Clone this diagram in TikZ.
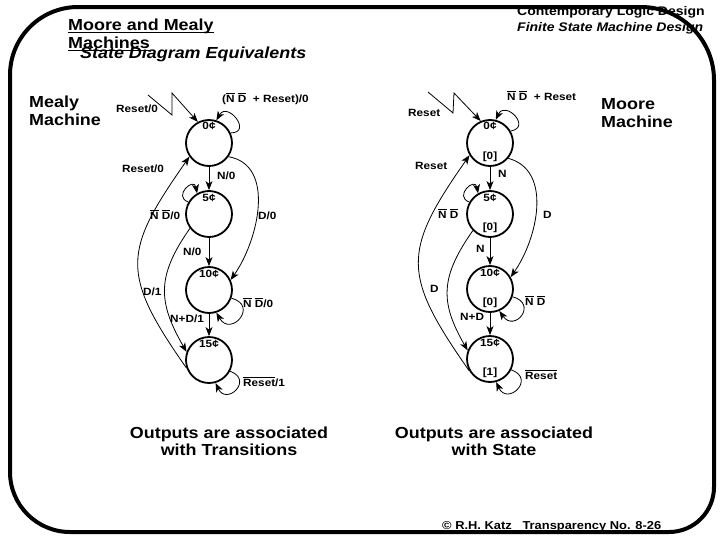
\documentclass[tikz,border=0pt]{standalone}
\usepackage{fontspec}
\setmainfont{Liberation Sans}[FakeStretch=1.12]
\usepackage{tikz}
\usetikzlibrary{arrows.meta}
\newcommand{\ovr}[1]{$\overline{\hbox{#1}}$}

\begin{document}
\begin{tikzpicture}[
  x=1pt,y=1pt,
  state/.style={circle,draw,line width=1.8pt,minimum size=46pt,inner sep=0pt},
  tr/.style={-{Stealth[length=9pt,width=7pt,inset=2.5pt]},line width=0.8pt},
  lbl/.style={font=\fontsize{10.5}{12}\selectfont\bfseries,inner sep=0pt},
  big/.style={font=\fontsize{16}{18}\selectfont\bfseries,inner sep=0pt},
  head/.style={font=\fontsize{12.5}{14}\selectfont\bfseries,inner sep=0pt},
  frame/.style={line width=4pt}
]
  \useasboundingbox (0,0) rectangle (728,-546);

  % titles
  \node[big,anchor=base west] (ttlA) at (68,-30) {Moore and Mealy};
  \node[big,anchor=base west] (ttlB) at (68,-48) {Machines};
  \draw[line width=1pt] ([yshift=-2.5pt]ttlA.base west) -- ([yshift=-2.5pt]ttlA.base east);
  \draw[line width=1pt] ([yshift=-2.5pt]ttlB.base west) -- ([yshift=-2.5pt]ttlB.base east);
  \node[big,font=\fontsize{16}{18}\selectfont\bfseries\itshape,anchor=base west] (sub) at (80,-58) {State Diagram Equivalents};
  \node[head,anchor=base west] (hdA) at (517,-16) {Contemporary Logic Design};
  \node[head,font=\fontsize{12.5}{14}\selectfont\bfseries\itshape,anchor=base west] (hdB) at (517,-31) {Finite State Machine Design};
  \node[big,anchor=base west] (meaA) at (29,-107) {Mealy};
  \node[big,anchor=base west] (meaB) at (29,-125) {Machine};
  \node[big,anchor=base west] (mooA) at (601,-109) {Moore};
  \node[big,anchor=base west] (mooB) at (601,-127) {Machine};

  % Mealy machine
  \node[state] (mea0) at (209,-143) {};
  \node[state] (mea5) at (209,-214) {};
  \node[state] (mea10) at (209,-290) {};
  \node[state] (mea15) at (209,-360) {};
  \node[lbl,anchor=base] at ([yshift=-10pt]mea0.north) {0¢};
  \node[lbl,anchor=base] at ([yshift=-11pt]mea5.north) {5¢};
  \node[lbl,anchor=base] at ([yshift=-11pt]mea10.north) {10¢};
  \node[lbl,anchor=base] at ([yshift=-11pt]mea15.north) {15¢};

  \coordinate (meaR) at (148,-95);
  \draw[tr] (meaR) -- (172,-115) -- (172,-93) -- (mea0.118);
  \draw[tr] (mea0.25) to[out=0,in=60,looseness=3] (mea0.72);
  \draw[tr] (mea0) -- (mea5);
  \draw[tr] (mea5.150) to[out=160,in=100,looseness=3.5] (mea5.120);
  \draw[tr] (mea0.-35) to[out=-10,in=55] (mea10.25);
  \draw[tr] (mea5) -- (mea10);
  \draw[tr] (mea5.217) to[out=235,in=120,looseness=1.2] (mea15.160);
  \draw[tr] (mea15.200) to[out=125,in=235,looseness=1.4] (mea0.215);
  \draw[tr] (mea10) -- (mea15);
  \draw[tr] (mea10.-20) to[out=-15,in=-60,looseness=3.5] (mea10.-72);
  \draw[tr] (mea15.-28) to[out=-20,in=-65,looseness=3.5] (mea15.-74);

  \node[lbl,anchor=base west] at (116,-112) {Reset/0};
  \node[lbl,anchor=base west] at (222,-102) {(\ovr{N} \ovr{D}\ \ + Reset)/0};
  \node[lbl,anchor=base west] at (122,-172) {Reset/0};
  \node[lbl,anchor=base west] at (217,-179) {N/0};
  \node[lbl,anchor=base west] at (150,-219) {\ovr{N} \ovr{D}/0};
  \node[lbl,anchor=base west] at (258,-219) {D/0};
  \node[lbl,anchor=base west] at (183,-255) {N/0};
  \node[lbl,anchor=base west] at (143,-295) {D/1};
  \node[lbl,anchor=base west] at (243,-307) {\ovr{N} \ovr{D}/0};
  \node[lbl,anchor=base west] at (170,-322) {N+D/1};
  \node[lbl,anchor=base west] at (243,-386) {\ovr{Reset}/1};

  % Moore machine
  \node[state] (moo0) at (490,-143) {};
  \node[state] (moo5) at (490,-214) {};
  \node[state] (moo10) at (490,-289) {};
  \node[state] (moo15) at (490,-359) {};
  \node[lbl,anchor=base] at ([yshift=-10pt]moo0.north) {0¢};
  \node[lbl,anchor=base] at ([yshift=-11pt]moo5.north) {5¢};
  \node[lbl,anchor=base] at ([yshift=-11pt]moo10.north) {10¢};
  \node[lbl,anchor=base] at ([yshift=-11pt]moo15.north) {15¢};
  \node[lbl,anchor=base] at ([yshift=7pt]moo0.south) {[0]};
  \node[lbl,anchor=base] at ([yshift=7pt]moo5.south) {[0]};
  \node[lbl,anchor=base] at ([yshift=7pt]moo10.south) {[0]};
  \node[lbl,anchor=base] at ([yshift=7pt]moo15.south) {[1]};

  \coordinate (mooR) at (428,-92);
  \draw[tr] (mooR) -- (453,-113) -- (454,-93) -- (moo0.113);
  \draw[tr] (moo0.30) to[out=10,in=65,looseness=3] (moo0.76);
  \draw[tr] (moo0) -- (moo5);
  \draw[tr] (moo5.150) to[out=160,in=100,looseness=3.5] (moo5.120);
  \draw[tr] (moo0.-40) to[out=-15,in=55] (moo10.30);
  \draw[tr] (moo5) -- (moo10);
  \draw[tr] (moo5.224) to[out=235,in=120,looseness=1.2] (moo15.159);
  \draw[tr] (moo15.210) to[out=125,in=235,looseness=1.4] (moo0.211);
  \draw[tr] (moo10) -- (moo15);
  \draw[tr] (moo10.-19) to[out=-15,in=-55,looseness=3.5] (moo10.-67);
  \draw[tr] (moo15.-27) to[out=-20,in=-65,looseness=3.5] (moo15.-75);

  \node[lbl,anchor=base west] at (408,-116) {Reset};
  \node[lbl,anchor=base west] at (507,-100) {\ovr{N} \ovr{D}\ \ + Reset};
  \node[lbl,anchor=base west] at (415,-169) {Reset};
  \node[lbl,anchor=base west] at (498,-177) {N};
  \node[lbl,anchor=base west] at (438,-218) {\ovr{N} \ovr{D}};
  \node[lbl,anchor=base west] at (543,-218) {D};
  \node[lbl,anchor=base west] at (476,-252) {N};
  \node[lbl,anchor=base west] at (430,-292) {D};
  \node[lbl,anchor=base west] at (525,-305) {\ovr{N} \ovr{D}};
  \node[lbl,anchor=base west] at (460,-320) {N+D};
  \node[lbl,anchor=base west] at (525,-379) {\ovr{Reset}};

  % captions
  \node[big,anchor=base] (capA) at (229,-438) {Outputs are associated};
  \node[big,anchor=base] (capB) at (229,-455) {with Transitions};
  \node[big,anchor=base] (capC) at (494,-438) {Outputs are associated};
  \node[big,anchor=base] (capD) at (494,-455) {with State};
  \node[lbl,font=\fontsize{11.5}{13}\selectfont\bfseries,anchor=base west] (copy) at (442,-529) {© R.H. Katz\ \ \ Transparency No. 8-26};

  % slide frame
  \draw[frame] (78,-7) -- (641,-7) arc[start angle=90,end angle=0,radius=73]
    -- (714,-487) arc[start angle=0,end angle=-90,radius=45]
    -- (70,-532) arc[start angle=270,end angle=180,radius=60]
    -- (10,-75) arc[start angle=180,end angle=90,radius=68] -- cycle;
\end{tikzpicture}
\end{document}
